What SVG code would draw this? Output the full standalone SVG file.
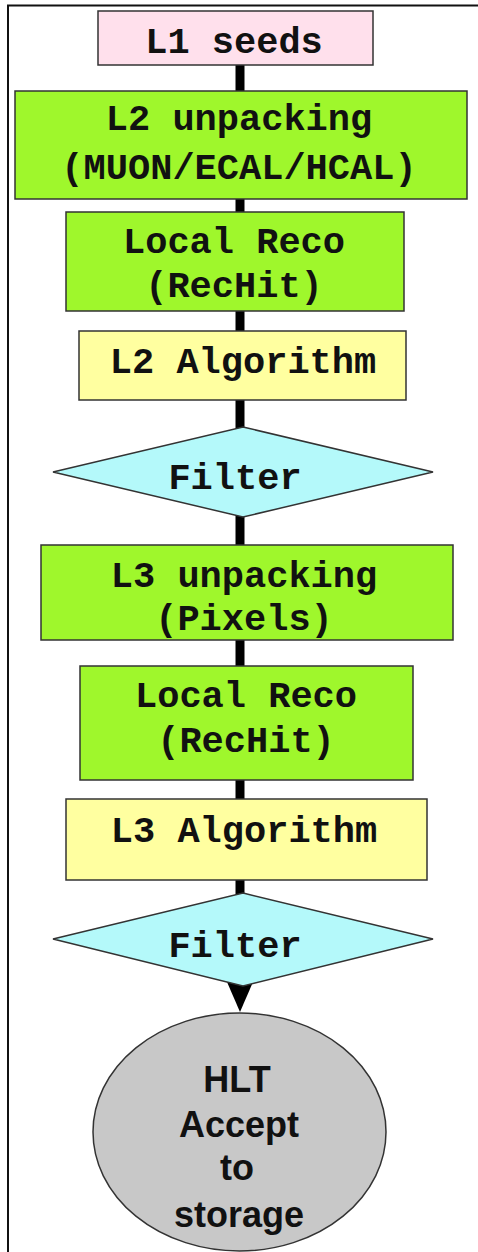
<svg xmlns="http://www.w3.org/2000/svg" width="478" height="1252" viewBox="0 0 478 1252">
  <style>
    .box { stroke: #333333; stroke-width: 1.5; }
    .seed { fill: #ffe0ec; }
    .step { fill: #9ff72c; }
    .algo { fill: #ffffa0; }
    .filter { fill: #b4f9fa; }
    .accept { fill: #c8c8c8; }
    .mono { font-family: "Liberation Mono", "Courier New", monospace; font-weight: bold; font-size: 37px; fill: #111111; text-anchor: middle; }
    .sans { font-family: "Liberation Sans", Arial, sans-serif; font-weight: bold; font-size: 36px; fill: #111111; text-anchor: middle; }
    .link { stroke: #000000; stroke-width: 9; fill: none; }
  </style>
  <defs>
    <marker id="arrow" markerUnits="userSpaceOnUse" markerWidth="30" markerHeight="26" viewBox="0 0 30 26" refX="8" refY="13" orient="auto">
      <path d="M0,0 L30,13 L0,26 z" fill="#000000"/>
    </marker>
  </defs>

  <rect x="0" y="0" width="478" height="1252" fill="#ffffff"/>
  <!-- outer frame -->
  <path d="M8,1252 V5.5 H478" fill="none" stroke="#111111" stroke-width="2"/>

  <!-- connectors -->
  <g id="connectors">
    <line class="link" x1="240" y1="65" x2="240" y2="92"/>
    <line class="link" x1="240" y1="199" x2="240" y2="213"/>
    <line class="link" x1="240" y1="311" x2="240" y2="332"/>
    <line class="link" x1="240" y1="400" x2="240" y2="430"/>
    <line class="link" x1="240" y1="514" x2="240" y2="546"/>
    <line class="link" x1="240" y1="640" x2="240" y2="667"/>
    <line class="link" x1="240" y1="780" x2="240" y2="800"/>
    <line class="link" x1="240" y1="880" x2="240" y2="896"/>
    <line class="link" x1="240" y1="975" x2="240" y2="990" marker-end="url(#arrow)"/>
  </g>

  <g id="l1-seeds">
    <rect class="box seed" x="98" y="11" width="275" height="54"/>
    <text class="mono" x="234" y="53">L1 seeds</text>
  </g>

  <g id="l2-unpacking">
    <rect class="box step" x="15" y="91" width="452" height="108"/>
    <text class="mono" x="239" y="130">L2 unpacking</text>
    <text class="mono" x="239" y="179">(MUON/ECAL/HCAL)</text>
  </g>

  <g id="l2-local-reco">
    <rect class="box step" x="66" y="212" width="338" height="99"/>
    <text class="mono" x="234" y="253">Local Reco</text>
    <text class="mono" x="234" y="297">(RecHit)</text>
  </g>

  <g id="l2-algorithm">
    <rect class="box algo" x="79" y="331" width="327" height="69"/>
    <text class="mono" x="243" y="373">L2 Algorithm</text>
  </g>

  <g id="l2-filter">
    <polygon class="box filter" points="243,427 433,472 243,517 53,472"/>
    <text class="mono" x="235" y="489">Filter</text>
  </g>

  <g id="l3-unpacking">
    <rect class="box step" x="41" y="545" width="412" height="95"/>
    <text class="mono" x="244" y="587">L3 unpacking</text>
    <text class="mono" x="244" y="630">(Pixels)</text>
  </g>

  <g id="l3-local-reco">
    <rect class="box step" x="80" y="666" width="333" height="114"/>
    <text class="mono" x="246" y="707">Local Reco</text>
    <text class="mono" x="246" y="752">(RecHit)</text>
  </g>

  <g id="l3-algorithm">
    <rect class="box algo" x="66" y="799" width="361" height="81"/>
    <text class="mono" x="244" y="842">L3 Algorithm</text>
  </g>

  <g id="l3-filter">
    <polygon class="box filter" points="243,893 433,939 243,986 53,939"/>
    <text class="mono" x="235" y="957">Filter</text>
  </g>

  <g id="hlt-accept">
    <ellipse class="box accept" cx="239.5" cy="1132" rx="146.5" ry="119"/>
    <text class="sans" x="237" y="1092">HLT</text>
    <text class="sans" x="239" y="1137">Accept</text>
    <text class="sans" x="237" y="1180">to</text>
    <text class="sans" x="239" y="1227">storage</text>
  </g>
</svg>
